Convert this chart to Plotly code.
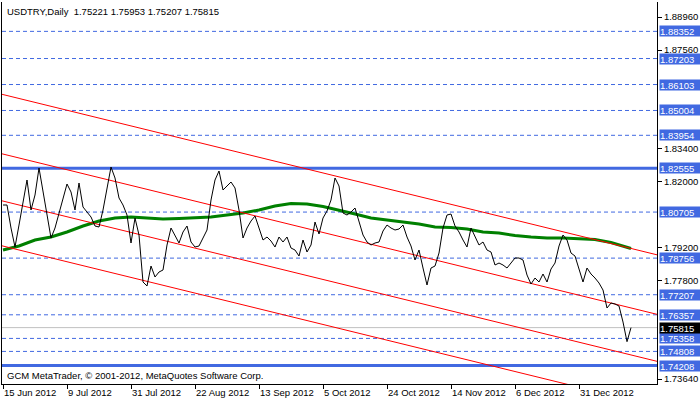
import plotly.graph_objects as go

# ---------------- data ----------------
bar_index = list(range(158))
close = [
    1.81004, 1.81004, 1.80031, 1.79226, 1.80157, 1.81130, 1.82062, 1.80792, 1.81427, 1.82570,
    1.81639, 1.80580, 1.79607, 1.80031, 1.80665, 1.81300, 1.81893, 1.81554, 1.80792, 1.81935,
    1.80919, 1.80707, 1.80496, 1.80115, 1.80073, 1.80792, 1.81724, 1.82612, 1.82147, 1.81300,
    1.81004, 1.80580, 1.79396, 1.80453, 1.79734, 1.77745, 1.77576, 1.78422, 1.77957, 1.78168,
    1.78253, 1.79311, 1.80031, 1.79692, 1.79396, 1.79861, 1.80115, 1.79438, 1.79226, 1.79269,
    1.79607, 1.79946, 1.81215, 1.82062, 1.82443, 1.81639, 1.81808, 1.81977, 1.81724, 1.80792,
    1.79607, 1.80031, 1.80326, 1.80538, 1.80031, 1.79523, 1.79650, 1.79480, 1.79226, 1.79650,
    1.79438, 1.79650, 1.79184, 1.79099, 1.78845, 1.79523, 1.79015, 1.79311, 1.80284, 1.79777,
    1.80453, 1.80750, 1.81215, 1.82147, 1.81808, 1.80665, 1.80580, 1.80707, 1.80877, 1.80284,
    1.79734, 1.79438, 1.79311, 1.79396, 1.79438, 1.79904, 1.80157, 1.80031, 1.79946, 1.79988,
    1.80157, 1.79650, 1.79269, 1.78676, 1.79099, 1.78338, 1.77618, 1.78338, 1.78422, 1.78972,
    1.80031, 1.80580, 1.80623, 1.80115, 1.79861, 1.79523, 1.79226, 1.80031, 1.79650, 1.79311,
    1.79438, 1.79099, 1.79015, 1.78465, 1.78549, 1.78465, 1.78338, 1.78549, 1.78761, 1.78761,
    1.78676, 1.78041, 1.77660, 1.77914, 1.77745, 1.78084, 1.77745, 1.78295, 1.78549, 1.79269,
    1.79734, 1.79523, 1.78972, 1.78845, 1.78338, 1.77745, 1.78338, 1.78084, 1.77914, 1.77703,
    1.77406, 1.76645, 1.76856, 1.76814, 1.76729, 1.76052, 1.75221, 1.75815,
]

ma_index = list(range(0, 157, 4)) + [157]
ma_values = [
    1.79099, 1.79269, 1.79523, 1.79650, 1.79861, 1.80115, 1.80326, 1.80453, 1.80496, 1.80453,
    1.80411, 1.80432, 1.80453, 1.80496, 1.80580, 1.80665, 1.80792, 1.80961, 1.81067, 1.81046,
    1.80940, 1.80792, 1.80623, 1.80453, 1.80369, 1.80284, 1.80199, 1.80073, 1.80052, 1.79988,
    1.79861, 1.79819, 1.79713, 1.79650, 1.79607, 1.79607, 1.79586, 1.79544, 1.79417, 1.79205,
    1.79163,
]

x_tick_index = [0, 16, 32, 48, 64, 80, 96, 112, 128, 144]
x_tick_labels = ["15 Jun 2012", "9 Jul 2012", "31 Jul 2012", "22 Aug 2012", "13 Sep 2012",
                 "5 Oct 2012", "24 Oct 2012", "14 Nov 2012", "6 Dec 2012", "31 Dec 2012"]

y_tick_values = [1.88960, 1.87560, 1.83400, 1.82000, 1.79200, 1.77800, 1.73640]

channel_x = [-0.25, 163.5]
channel_a = [1.85689, 1.78896]
channel_b = [1.83171, 1.76378]
channel_c = [1.81181, 1.74389]
channel_d = [1.79277, 1.72485]

dashed_levels = [1.88352, 1.87203, 1.86103, 1.85004, 1.83954, 1.80705,
                 1.78756, 1.77207, 1.76357, 1.75358, 1.74808]
solid_levels = [1.82555, 1.74208]
current_price = 1.75815

title_text = "USDTRY,Daily  1.75221 1.75953 1.75207 1.75815"
footer_text = "GCM MetaTrader, © 2001-2012, MetaQuotes Software Corp."

# ---------------- figure ----------------
FONT = "Liberation Sans, Arial, sans-serif"
BLUE = "#4169E1"

fig = go.Figure()

fig.add_trace(go.Scatter(x=ma_index, y=ma_values, mode="lines",
                         line=dict(color="#008000", width=3), hoverinfo="skip"))
for ch in (channel_a, channel_b, channel_c, channel_d):
    fig.add_trace(go.Scatter(x=channel_x, y=ch, mode="lines",
                             line=dict(color="#FF0000", width=1), hoverinfo="skip"))
fig.add_trace(go.Scatter(x=bar_index, y=close, mode="lines",
                         line=dict(color="black", width=1)))

shapes = []
for v in dashed_levels:
    shapes.append(dict(type="line", xref="paper", x0=0, x1=1, yref="y", y0=v, y1=v,
                       line=dict(color=BLUE, width=1, dash="4px,3px"), layer="below"))
for v in solid_levels:
    shapes.append(dict(type="line", xref="paper", x0=0, x1=1, yref="y", y0=v, y1=v,
                       line=dict(color=BLUE, width=3), layer="below"))
shapes.append(dict(type="line", xref="paper", x0=0, x1=1, yref="y", y0=current_price,
                   y1=current_price, line=dict(color="#C0C0C0", width=1), layer="below"))

annotations = []
for v in dashed_levels + solid_levels:
    annotations.append(dict(xref="paper", x=1, xanchor="left", xshift=2, yref="y", y=v,
                            yanchor="middle", text=f"{v:.5f}", showarrow=False,
                            bgcolor=BLUE, font=dict(family=FONT, size=9.5, color="white"),
                            width=40, height=10, align="left", borderpad=0))
annotations.append(dict(xref="paper", x=1, xanchor="left", xshift=2, yref="y", y=current_price,
                        yanchor="middle", text=f"{current_price:.5f}", showarrow=False,
                        bgcolor="black", font=dict(family=FONT, size=9.5, color="white"),
                        width=40, height=10, align="left", borderpad=0))
annotations.append(dict(xref="paper", x=0, xanchor="left", xshift=3, yref="paper", y=1,
                        yanchor="top", yshift=-2, text=title_text, showarrow=False,
                        font=dict(family=FONT, size=9.5, color="black")))
annotations.append(dict(xref="paper", x=0, xanchor="left", xshift=3, yref="paper", y=0,
                        yanchor="bottom", yshift=1, text=footer_text, showarrow=False,
                        font=dict(family=FONT, size=9.5, color="black")))

fig.update_layout(
    width=700, height=402,
    margin=dict(l=2, r=43, t=2, b=18),
    paper_bgcolor="white", plot_bgcolor="white",
    showlegend=False,
    shapes=shapes, annotations=annotations,
    font=dict(family=FONT, size=9.5, color="black"),
    xaxis=dict(range=[-0.25, 163.5], showgrid=False, zeroline=False,
               showline=True, linecolor="black", linewidth=1,
               ticks="outside", ticklen=4, tickcolor="black",
               tickvals=x_tick_index, ticktext=x_tick_labels,
               ticklabelposition="outside right",
               tickfont=dict(family=FONT, size=9.5, color="black")),
    yaxis=dict(range=[1.73429, 1.89595], side="right", showgrid=False, zeroline=False,
               showline=True, mirror=True, linecolor="black", linewidth=1,
               ticks="outside", ticklen=4, tickcolor="black",
               tickvals=y_tick_values, ticktext=[f"{v:.5f}" for v in y_tick_values],
               tickfont=dict(family=FONT, size=9.5, color="black")),
)

fig.write_html("out.html", config={"displayModeBar": False},
               post_script="document.body.style.margin='0';document.body.style.overflow='hidden';")
